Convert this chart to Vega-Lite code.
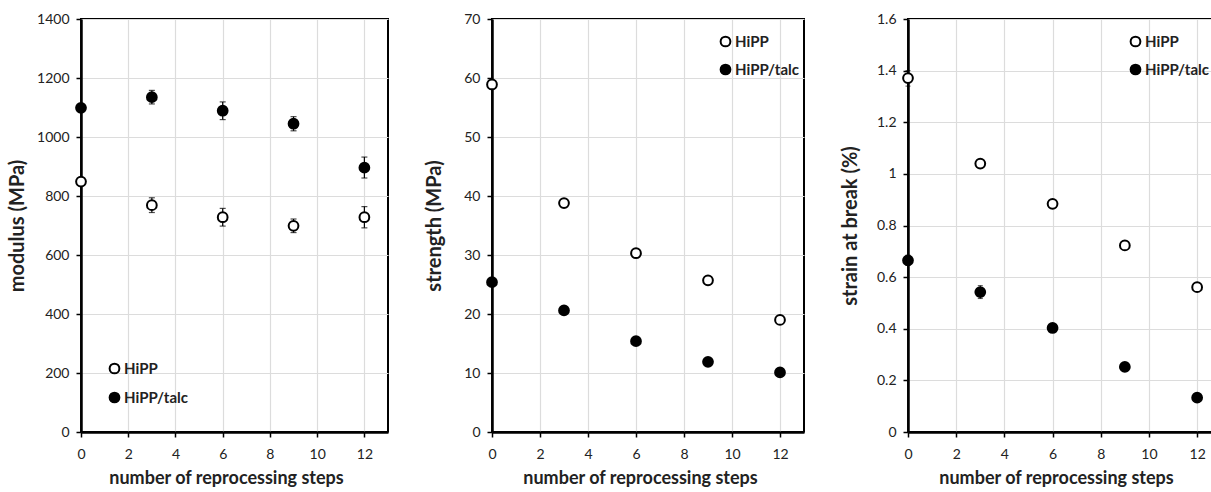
{
  "$schema": "https://vega.github.io/schema/vega-lite/v6.json",
  "padding": {"top": 11, "left": 6, "right": 0, "bottom": 0},
  "spacing": 34,
  "datasets": {
    "modulus": [
      {"step": 0, "series": "HiPP", "value": 849, "lo": 839, "hi": 859},
      {"step": 3, "series": "HiPP", "value": 769, "lo": 744, "hi": 794},
      {"step": 6, "series": "HiPP", "value": 728, "lo": 698, "hi": 758},
      {"step": 9, "series": "HiPP", "value": 699, "lo": 676, "hi": 722},
      {"step": 12, "series": "HiPP", "value": 728, "lo": 692, "hi": 764},
      {"step": 0, "series": "HiPP/talc", "value": 1099, "lo": 1089, "hi": 1109},
      {"step": 3, "series": "HiPP/talc", "value": 1135, "lo": 1112, "hi": 1158},
      {"step": 6, "series": "HiPP/talc", "value": 1089, "lo": 1059, "hi": 1119},
      {"step": 9, "series": "HiPP/talc", "value": 1045, "lo": 1021, "hi": 1069},
      {"step": 12, "series": "HiPP/talc", "value": 896, "lo": 861, "hi": 932}
    ],
    "strength": [
      {"step": 0, "series": "HiPP", "value": 58.9},
      {"step": 3, "series": "HiPP", "value": 38.8},
      {"step": 6, "series": "HiPP", "value": 30.3},
      {"step": 9, "series": "HiPP", "value": 25.7},
      {"step": 12, "series": "HiPP", "value": 19.0},
      {"step": 0, "series": "HiPP/talc", "value": 25.4},
      {"step": 3, "series": "HiPP/talc", "value": 20.6},
      {"step": 6, "series": "HiPP/talc", "value": 15.4},
      {"step": 9, "series": "HiPP/talc", "value": 11.9},
      {"step": 12, "series": "HiPP/talc", "value": 10.1}
    ],
    "strain": [
      {"step": 0, "series": "HiPP", "value": 1.371, "lo": 1.34, "hi": 1.40},
      {"step": 3, "series": "HiPP", "value": 1.040, "lo": 1.025, "hi": 1.055},
      {"step": 6, "series": "HiPP", "value": 0.884, "lo": 0.874, "hi": 0.894},
      {"step": 9, "series": "HiPP", "value": 0.723, "lo": 0.713, "hi": 0.733},
      {"step": 12, "series": "HiPP", "value": 0.561, "lo": 0.551, "hi": 0.571},
      {"step": 0, "series": "HiPP/talc", "value": 0.665, "lo": 0.645, "hi": 0.685},
      {"step": 3, "series": "HiPP/talc", "value": 0.542, "lo": 0.517, "hi": 0.567},
      {"step": 6, "series": "HiPP/talc", "value": 0.403, "lo": 0.393, "hi": 0.413},
      {"step": 9, "series": "HiPP/talc", "value": 0.252, "lo": 0.237, "hi": 0.267},
      {"step": 12, "series": "HiPP/talc", "value": 0.133, "lo": 0.123, "hi": 0.143}
    ]
  },
  "resolve": {"scale": {"fill": "independent"}, "legend": {"fill": "independent"}},
  "hconcat": [
    {
      "width": 307, "height": 413,
      "data": {"name": "modulus"},
      "encoding": {
        "x": {"field": "step", "type": "quantitative", "scale": {"domain": [0, 13], "nice": false, "zero": false},
              "axis": {"title": "number of reprocessing steps", "values": [0, 2, 4, 6, 8, 10, 12], "titleY": 37, "titleX": 145, "labelFlush": false}}
      },
      "layer": [
        {
          "mark": {"type": "errorbar", "ticks": {"size": 6, "color": "black", "thickness": 1.2}, "color": "black", "thickness": 1.2},
          "encoding": {
            "y": {"field": "lo", "type": "quantitative", "scale": {"domain": [0, 1400], "nice": false},
                  "axis": {"title": "modulus (MPa)", "values": [0, 200, 400, 600, 800, 1000, 1200, 1400], "format": "d", "titleX": -54, "labelFlush": false}},
            "y2": {"field": "hi"}
          }
        },
        {
          "mark": {"type": "circle", "stroke": "black", "strokeWidth": 2, "opacity": 1, "size": 95},
          "encoding": {
            "y": {"field": "value", "type": "quantitative", "scale": {"domain": [0, 1400], "nice": false},
                  "axis": {"title": "modulus (MPa)", "values": [0, 200, 400, 600, 800, 1000, 1200, 1400], "format": "d", "titleX": -54, "labelFlush": false}},
            "fill": {"field": "series", "type": "nominal", "scale": {"domain": ["HiPP", "HiPP/talc"], "range": ["white", "black"]},
                     "legend": {"title": null, "orient": "none", "legendX": 26, "legendY": 342, "rowPadding": 10}}
          }
        }
      ]
    },
    {
      "width": 312, "height": 413,
      "data": {"name": "strength"},
      "mark": {"type": "circle", "stroke": "black", "strokeWidth": 2, "opacity": 1, "size": 95},
      "encoding": {
        "x": {"field": "step", "type": "quantitative", "scale": {"domain": [0, 13], "nice": false, "zero": false},
              "axis": {"title": "number of reprocessing steps", "values": [0, 2, 4, 6, 8, 10, 12], "titleY": 37, "titleX": 148, "labelFlush": false}},
        "y": {"field": "value", "type": "quantitative", "scale": {"domain": [0, 70], "nice": false},
              "axis": {"title": "strength (MPa)", "values": [0, 10, 20, 30, 40, 50, 60, 70], "titleX": -48, "labelFlush": false}},
        "fill": {"field": "series", "type": "nominal", "scale": {"domain": ["HiPP", "HiPP/talc"], "range": ["white", "black"]},
                 "legend": {"title": null, "orient": "none", "legendX": 226, "legendY": 15}}
      }
    },
    {
      "width": 306, "height": 413,
      "data": {"name": "strain"},
      "encoding": {
        "x": {"field": "step", "type": "quantitative", "scale": {"domain": [0, 12.7], "nice": false, "zero": false},
              "axis": {"title": "number of reprocessing steps", "values": [0, 2, 4, 6, 8, 10, 12], "titleY": 37, "titleX": 148, "labelFlush": false}}
      },
      "layer": [
        {
          "mark": {"type": "errorbar", "ticks": {"size": 5, "color": "black", "thickness": 1}, "color": "black", "thickness": 1},
          "encoding": {
            "y": {"field": "lo", "type": "quantitative", "scale": {"domain": [0, 1.6], "nice": false},
                  "axis": {"title": "strain at break (%)", "values": [0, 0.2, 0.4, 0.6, 0.8, 1, 1.2, 1.4, 1.6], "format": ".1~f", "titleX": -48, "labelFlush": false}},
            "y2": {"field": "hi"}
          }
        },
        {
          "mark": {"type": "circle", "stroke": "black", "strokeWidth": 2, "opacity": 1, "size": 95},
          "encoding": {
            "y": {"field": "value", "type": "quantitative", "scale": {"domain": [0, 1.6], "nice": false},
                  "axis": {"title": "strain at break (%)", "values": [0, 0.2, 0.4, 0.6, 0.8, 1, 1.2, 1.4, 1.6], "format": ".1~f", "titleX": -48, "labelFlush": false}},
            "fill": {"field": "series", "type": "nominal", "scale": {"domain": ["HiPP", "HiPP/talc"], "range": ["white", "black"]},
                     "legend": {"title": null, "orient": "none", "legendX": 220, "legendY": 15}}
          }
        }
      ]
    }
  ],
  "config": {
    "font": "Lato",
    "view": {"stroke": "black", "strokeWidth": 2},
    "axis": {
      "gridColor": "#dcdcdc", "gridWidth": 1.2,
      "domainColor": "black", "domainWidth": 2.5,
      "tickColor": "black", "tickSize": 5, "tickWidth": 1.5,
      "labelFontSize": 14, "labelColor": "#222", "labelPadding": 7,
      "titleFontSize": 18, "titleFontWeight": "bold", "titleColor": "#222"
    },
    "axisX": {"labelPadding": 10},
    "axisY": {"titleFontSize": 20},
    "legend": {
      "labelFontSize": 15, "labelFontWeight": "bold", "labelColor": "#222",
      "symbolType": "circle", "symbolStrokeColor": "black", "symbolStrokeWidth": 2, "symbolSize": 95,
      "rowPadding": 9, "padding": 0, "labelOffset": 2
    }
  }
}
